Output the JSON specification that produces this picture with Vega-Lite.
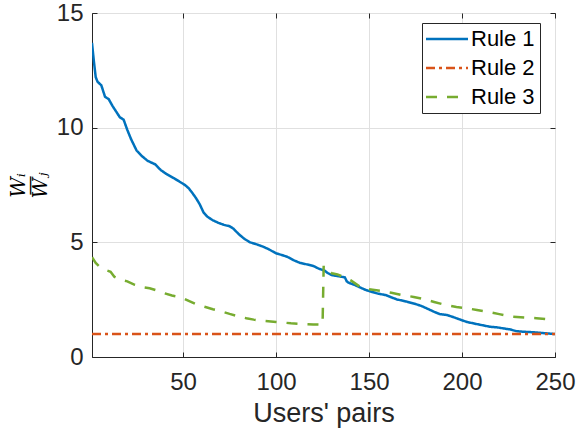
{
  "$schema": "https://vega.github.io/schema/vega-lite/v6.json",
  "width": 463,
  "height": 344,
  "autosize": "none",
  "padding": {"left": 92, "top": 13, "right": 22, "bottom": 75},
  "background": "white",
  "config": {
    "view": {"stroke": "#262626", "strokeWidth": 1},
    "axis": {
      "labelFont": "Liberation Sans",
      "titleFont": "Liberation Sans",
      "labelColor": "#262626",
      "titleColor": "#262626",
      "domainColor": "#262626",
      "tickColor": "#262626",
      "gridColor": "#e0e0e0",
      "gridWidth": 1
    },
    "legend": {
      "title": null,
      "orient": "none",
      "legendX": 330,
      "legendY": 10,
      "symbolType": "M-3,0H3",
      "symbolSize": 196,
      "symbolOffset": 9,
      "symbolStrokeWidth": 2.5,
      "labelFont": "Liberation Sans",
      "labelFontSize": 22,
      "labelColor": "#000000",
      "labelOffset": 13,
      "rowPadding": 7,
      "padding": 5,
      "strokeColor": "#262626",
      "fillColor": "white",
      "cornerRadius": 0
    }
  },
  "data": {
    "values": [
      {"x": 1, "y": 13.7, "rule": "Rule 1"},
      {"x": 2, "y": 12.9, "rule": "Rule 1"},
      {"x": 3, "y": 12.2, "rule": "Rule 1"},
      {"x": 4, "y": 12.0, "rule": "Rule 1"},
      {"x": 6, "y": 11.85, "rule": "Rule 1"},
      {"x": 8, "y": 11.35, "rule": "Rule 1"},
      {"x": 10, "y": 11.24, "rule": "Rule 1"},
      {"x": 12, "y": 10.95, "rule": "Rule 1"},
      {"x": 14, "y": 10.7, "rule": "Rule 1"},
      {"x": 16, "y": 10.45, "rule": "Rule 1"},
      {"x": 18, "y": 10.35, "rule": "Rule 1"},
      {"x": 20, "y": 9.9, "rule": "Rule 1"},
      {"x": 22, "y": 9.5, "rule": "Rule 1"},
      {"x": 25, "y": 9.0, "rule": "Rule 1"},
      {"x": 28, "y": 8.75, "rule": "Rule 1"},
      {"x": 31, "y": 8.55, "rule": "Rule 1"},
      {"x": 35, "y": 8.4, "rule": "Rule 1"},
      {"x": 38, "y": 8.15, "rule": "Rule 1"},
      {"x": 41, "y": 7.98, "rule": "Rule 1"},
      {"x": 45, "y": 7.8, "rule": "Rule 1"},
      {"x": 48, "y": 7.65, "rule": "Rule 1"},
      {"x": 51, "y": 7.5, "rule": "Rule 1"},
      {"x": 53, "y": 7.36, "rule": "Rule 1"},
      {"x": 55, "y": 7.15, "rule": "Rule 1"},
      {"x": 57, "y": 6.92, "rule": "Rule 1"},
      {"x": 59, "y": 6.65, "rule": "Rule 1"},
      {"x": 61, "y": 6.3, "rule": "Rule 1"},
      {"x": 63, "y": 6.12, "rule": "Rule 1"},
      {"x": 66, "y": 5.96, "rule": "Rule 1"},
      {"x": 69, "y": 5.85, "rule": "Rule 1"},
      {"x": 72, "y": 5.76, "rule": "Rule 1"},
      {"x": 75, "y": 5.7, "rule": "Rule 1"},
      {"x": 77, "y": 5.6, "rule": "Rule 1"},
      {"x": 80, "y": 5.35, "rule": "Rule 1"},
      {"x": 83, "y": 5.15, "rule": "Rule 1"},
      {"x": 86, "y": 5.0, "rule": "Rule 1"},
      {"x": 90, "y": 4.9, "rule": "Rule 1"},
      {"x": 93, "y": 4.81, "rule": "Rule 1"},
      {"x": 96, "y": 4.7, "rule": "Rule 1"},
      {"x": 100, "y": 4.52, "rule": "Rule 1"},
      {"x": 103, "y": 4.45, "rule": "Rule 1"},
      {"x": 106, "y": 4.37, "rule": "Rule 1"},
      {"x": 110, "y": 4.2, "rule": "Rule 1"},
      {"x": 113, "y": 4.1, "rule": "Rule 1"},
      {"x": 117, "y": 4.03, "rule": "Rule 1"},
      {"x": 120, "y": 3.97, "rule": "Rule 1"},
      {"x": 123, "y": 3.85, "rule": "Rule 1"},
      {"x": 126, "y": 3.77, "rule": "Rule 1"},
      {"x": 128, "y": 3.65, "rule": "Rule 1"},
      {"x": 130, "y": 3.57, "rule": "Rule 1"},
      {"x": 133, "y": 3.53, "rule": "Rule 1"},
      {"x": 137, "y": 3.47, "rule": "Rule 1"},
      {"x": 138, "y": 3.3, "rule": "Rule 1"},
      {"x": 139, "y": 3.24, "rule": "Rule 1"},
      {"x": 142, "y": 3.15, "rule": "Rule 1"},
      {"x": 145, "y": 3.04, "rule": "Rule 1"},
      {"x": 148, "y": 2.93, "rule": "Rule 1"},
      {"x": 151, "y": 2.85, "rule": "Rule 1"},
      {"x": 155, "y": 2.76, "rule": "Rule 1"},
      {"x": 159, "y": 2.7, "rule": "Rule 1"},
      {"x": 162, "y": 2.6, "rule": "Rule 1"},
      {"x": 165, "y": 2.51, "rule": "Rule 1"},
      {"x": 170, "y": 2.42, "rule": "Rule 1"},
      {"x": 175, "y": 2.31, "rule": "Rule 1"},
      {"x": 178, "y": 2.23, "rule": "Rule 1"},
      {"x": 181, "y": 2.12, "rule": "Rule 1"},
      {"x": 185, "y": 1.97, "rule": "Rule 1"},
      {"x": 188, "y": 1.87, "rule": "Rule 1"},
      {"x": 192, "y": 1.83, "rule": "Rule 1"},
      {"x": 196, "y": 1.72, "rule": "Rule 1"},
      {"x": 200, "y": 1.6, "rule": "Rule 1"},
      {"x": 203, "y": 1.52, "rule": "Rule 1"},
      {"x": 206, "y": 1.47, "rule": "Rule 1"},
      {"x": 210, "y": 1.4, "rule": "Rule 1"},
      {"x": 215, "y": 1.32, "rule": "Rule 1"},
      {"x": 219, "y": 1.29, "rule": "Rule 1"},
      {"x": 222, "y": 1.25, "rule": "Rule 1"},
      {"x": 226, "y": 1.2, "rule": "Rule 1"},
      {"x": 229, "y": 1.13, "rule": "Rule 1"},
      {"x": 233, "y": 1.1, "rule": "Rule 1"},
      {"x": 238, "y": 1.08, "rule": "Rule 1"},
      {"x": 244, "y": 1.04, "rule": "Rule 1"},
      {"x": 250, "y": 1.0, "rule": "Rule 1"},
      {"x": 1, "y": 1.0, "rule": "Rule 2"},
      {"x": 50, "y": 1.0, "rule": "Rule 2"},
      {"x": 100, "y": 1.0, "rule": "Rule 2"},
      {"x": 150, "y": 1.0, "rule": "Rule 2"},
      {"x": 200, "y": 1.0, "rule": "Rule 2"},
      {"x": 250, "y": 1.0, "rule": "Rule 2"},
      {"x": 1, "y": 4.35, "rule": "Rule 3"},
      {"x": 3, "y": 4.1, "rule": "Rule 3"},
      {"x": 5, "y": 3.94, "rule": "Rule 3"},
      {"x": 8, "y": 3.8, "rule": "Rule 3"},
      {"x": 11, "y": 3.72, "rule": "Rule 3"},
      {"x": 13, "y": 3.5, "rule": "Rule 3"},
      {"x": 16, "y": 3.38, "rule": "Rule 3"},
      {"x": 20, "y": 3.3, "rule": "Rule 3"},
      {"x": 24, "y": 3.15, "rule": "Rule 3"},
      {"x": 28, "y": 3.05, "rule": "Rule 3"},
      {"x": 32, "y": 3.0, "rule": "Rule 3"},
      {"x": 36, "y": 2.9, "rule": "Rule 3"},
      {"x": 40, "y": 2.78, "rule": "Rule 3"},
      {"x": 44, "y": 2.68, "rule": "Rule 3"},
      {"x": 49, "y": 2.6, "rule": "Rule 3"},
      {"x": 53, "y": 2.45, "rule": "Rule 3"},
      {"x": 57, "y": 2.3, "rule": "Rule 3"},
      {"x": 62, "y": 2.18, "rule": "Rule 3"},
      {"x": 66, "y": 2.08, "rule": "Rule 3"},
      {"x": 71, "y": 1.98, "rule": "Rule 3"},
      {"x": 75, "y": 1.88, "rule": "Rule 3"},
      {"x": 79, "y": 1.79, "rule": "Rule 3"},
      {"x": 84, "y": 1.69, "rule": "Rule 3"},
      {"x": 88, "y": 1.63, "rule": "Rule 3"},
      {"x": 92, "y": 1.58, "rule": "Rule 3"},
      {"x": 100, "y": 1.53, "rule": "Rule 3"},
      {"x": 108, "y": 1.47, "rule": "Rule 3"},
      {"x": 115, "y": 1.44, "rule": "Rule 3"},
      {"x": 120, "y": 1.42, "rule": "Rule 3"},
      {"x": 125, "y": 1.41, "rule": "Rule 3"},
      {"x": 125.6, "y": 3.98, "rule": "Rule 3"},
      {"x": 128, "y": 3.8, "rule": "Rule 3"},
      {"x": 130, "y": 3.65, "rule": "Rule 3"},
      {"x": 133, "y": 3.6, "rule": "Rule 3"},
      {"x": 136, "y": 3.5, "rule": "Rule 3"},
      {"x": 140, "y": 3.35, "rule": "Rule 3"},
      {"x": 145, "y": 3.07, "rule": "Rule 3"},
      {"x": 150, "y": 2.95, "rule": "Rule 3"},
      {"x": 156, "y": 2.89, "rule": "Rule 3"},
      {"x": 162, "y": 2.8, "rule": "Rule 3"},
      {"x": 168, "y": 2.7, "rule": "Rule 3"},
      {"x": 174, "y": 2.62, "rule": "Rule 3"},
      {"x": 179, "y": 2.53, "rule": "Rule 3"},
      {"x": 185, "y": 2.4, "rule": "Rule 3"},
      {"x": 191, "y": 2.27, "rule": "Rule 3"},
      {"x": 197, "y": 2.18, "rule": "Rule 3"},
      {"x": 203, "y": 2.12, "rule": "Rule 3"},
      {"x": 208, "y": 2.05, "rule": "Rule 3"},
      {"x": 213, "y": 1.98, "rule": "Rule 3"},
      {"x": 220, "y": 1.87, "rule": "Rule 3"},
      {"x": 227, "y": 1.76, "rule": "Rule 3"},
      {"x": 234, "y": 1.72, "rule": "Rule 3"},
      {"x": 240, "y": 1.69, "rule": "Rule 3"},
      {"x": 245, "y": 1.65, "rule": "Rule 3"},
      {"x": 250, "y": 1.61, "rule": "Rule 3"}
    ]
  },
  "layer": [
    {
      "mark": {"type": "line", "strokeWidth": 2.5, "clip": true},
      "encoding": {
        "x": {
          "field": "x", "type": "quantitative",
          "scale": {"domain": [1, 250], "nice": false, "zero": false},
          "axis": {
            "orient": "bottom",
            "values": [50, 100, 150, 200, 250],
            "title": "Users' pairs",
            "titleFontSize": 27, "titleFontWeight": "normal", "titlePadding": 6,
            "labelFontSize": 24, "labelPadding": 18, "tickSize": -5,
            "grid": true, "labelFlush": false
          }
        },
        "y": {
          "field": "y", "type": "quantitative",
          "scale": {"domain": [0, 15], "nice": false},
          "axis": {
            "orient": "left",
            "values": [0, 5, 10, 15],
            "title": ["Wᵢ", "—", "Wⱼ"],
            "titleFont": "DejaVu Serif",
            "titleFontStyle": "italic",
            "titleFontWeight": "normal",
            "titleFontSize": 20,
            "titleLineHeight": 11,
            "titleColor": "#000000",
            "titlePadding": 6,
            "labelFontSize": 24, "labelPadding": 14, "tickSize": -5,
            "grid": true, "labelFlush": false
          }
        },
        "color": {
          "field": "rule", "type": "nominal",
          "scale": {"domain": ["Rule 1", "Rule 2", "Rule 3"], "range": ["#0072BD", "#D95319", "#77AC30"]},
          "legend": {"title": null}
        },
        "strokeDash": {
          "field": "rule", "type": "nominal",
          "scale": {"domain": ["Rule 1", "Rule 2", "Rule 3"], "range": [[1, 0], [9, 4, 3, 4], [11, 10]]},
          "legend": {"title": null}
        }
      }
    },
    {
      "mark": {"type": "line", "opacity": 0},
      "encoding": {
        "x": {
          "field": "x", "type": "quantitative",
          "axis": {"orient": "top", "values": [50, 100, 150, 200, 250], "labels": false, "title": null, "grid": false, "tickSize": -5, "domain": false}
        },
        "y": {
          "field": "y", "type": "quantitative",
          "axis": {"orient": "right", "values": [0, 5, 10, 15], "labels": false, "title": null, "grid": false, "tickSize": -5, "domain": false}
        },
        "detail": {"field": "rule"}
      }
    }
  ],
  "resolve": {"axis": {"x": "independent", "y": "independent"}}
}
